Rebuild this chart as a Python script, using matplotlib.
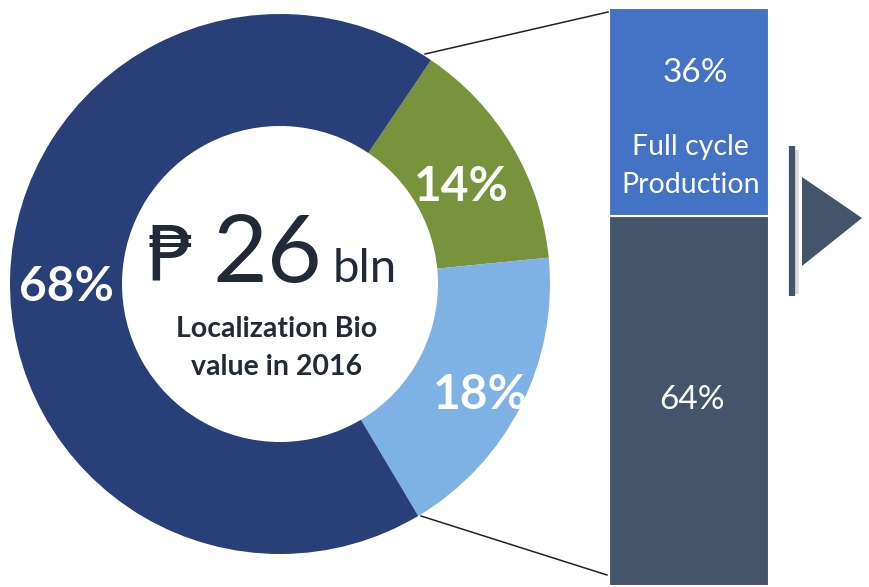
import numpy as np
import matplotlib
matplotlib.use("Agg")
import matplotlib.pyplot as plt
from matplotlib.patches import Polygon

plt.rcParams['font.family'] = ['Lato', 'DejaVu Sans']

# ---- data ----
donut_labels = ['14%', '18%', '68%']
donut_values = [14, 18, 68]
donut_colors = ['#78933C', '#7EB1E4', '#293F77']

bar_values = [64, 36]               # bottom, top
bar_labels = ['64%', '36%']
bar_colors = ['#44546A', '#4472C4']
bar_caption = 'Full cycle\nProduction'

center_currency = '\u20b1'
center_value = '26'
center_unit = 'bln'
center_caption = ['Localization Bio', 'value in 2016']

W, H = 870, 587
fig = plt.figure(figsize=(W / 100, H / 100), dpi=100)
ax = fig.add_axes([0, 0, 1, 1])

def Y(y):
    return H - y

cx, cy, R, r_in = 280, Y(284), 270, 158
wedges, _ = ax.pie(donut_values, radius=R, center=(cx, cy), startangle=56,
                   counterclock=False, colors=donut_colors,
                   wedgeprops=dict(width=R - r_in, edgecolor='none'))
ax.set_xlim(0, W)
ax.set_ylim(0, H)
ax.set_aspect('equal')
ax.axis('off')

# percentage labels on the ring
rm = (R + r_in) / 2
offsets = [(-3, -13), (9, -15), (0, -9)]
for w, lab, (ox, oy) in zip(wedges, donut_labels, offsets):
    ang = np.deg2rad((w.theta1 + w.theta2) / 2)
    x = cx + rm * np.cos(ang) + ox
    y = cy + rm * np.sin(ang) + oy
    ax.text(x, y, lab, color='white', fontsize=34.5, fontweight='bold',
            ha='center', va='center')

# center text
dark = '#222A35'
ax.text(147, Y(280), center_currency, fontsize=55, color=dark, ha='left',
        va='baseline', family=['DejaVu Sans'])
ax.text(213, Y(282), center_value, fontsize=68, color=dark, ha='left', va='baseline')
ax.text(333, Y(282), center_unit, fontsize=34, color=dark, ha='left', va='baseline')
ax.text(277, Y(337), center_caption[0], fontsize=20.5, fontweight='bold',
        color=dark, ha='center', va='baseline')
ax.text(277, Y(375), center_caption[1], fontsize=20.5, fontweight='bold',
        color=dark, ha='center', va='baseline')

# connector lines
ax.plot([425, 608], [Y(54), Y(12)], color='#222222', lw=1.1)
ax.plot([421, 607], [Y(516), Y(575)], color='#222222', lw=1.1)

# vertical bar + arrow
ax.plot([796, 796], [Y(150), Y(294)], color='#9a9a9a', lw=4, alpha=0.35,
        solid_capstyle='butt')
ax.plot([792, 792], [Y(146), Y(296)], color='#44546A', lw=4.5,
        solid_capstyle='butt')
ax.add_patch(Polygon([(802, Y(177)), (802, Y(266)), (862, Y(218))],
                     closed=True, facecolor='#44546A', edgecolor='none'))

# stacked bar
bx = fig.add_axes([609 / W, 1 / H, 160 / W, 578 / H])
bottom = 0
for v, c, lab in zip(bar_values, bar_colors, bar_labels):
    bx.bar(0, v, bottom=bottom, width=1, color=c, edgecolor='white', linewidth=1.5)
    bottom += v
bx.set_xlim(-0.5, 0.5)
bx.set_ylim(0, sum(bar_values))
bx.axis('off')

def by(ypix):
    return (H - ypix - 1) / 578 * sum(bar_values)

bx.text(0.04, by(73), bar_labels[1], color='white', fontsize=24, ha='center', va='center')
bx.text(0.01, by(155), bar_caption.split('\n')[0], color='white', fontsize=20.5,
        ha='center', va='baseline')
bx.text(0.01, by(193), bar_caption.split('\n')[1], color='white', fontsize=20.5,
        ha='center', va='baseline')
bx.text(0.02, by(400), bar_labels[0], color='white', fontsize=24, ha='center', va='center')

fig.savefig('out.png', dpi=100)
